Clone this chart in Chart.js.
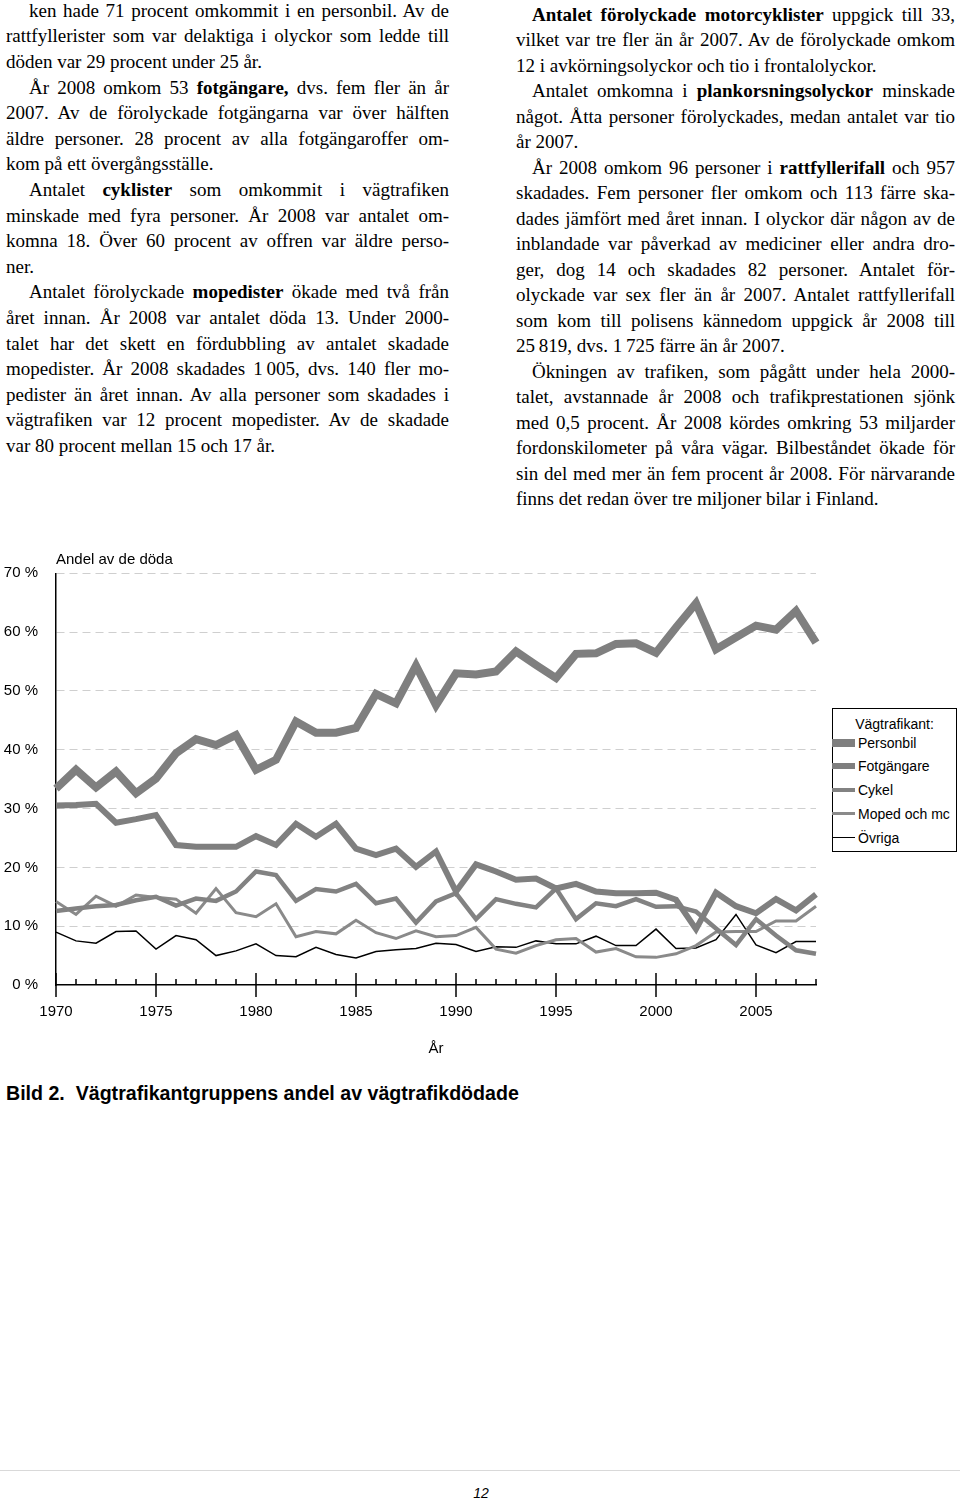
<!DOCTYPE html>
<html>
<head>
<meta charset="utf-8">
<script src="https://cdn.jsdelivr.net/npm/chart.js@4.4.1/dist/chart.umd.min.js"></script>
<style>
  html,body{margin:0;padding:0;background:#fff;}
  #page{position:relative;width:960px;height:1500px;overflow:hidden;background:#fff;}
  .ln{position:absolute;height:25.6px;line-height:25.6px;font-family:"Liberation Serif","Times New Roman",serif;font-size:19px;color:#000;white-space:nowrap;}
  .ln b{font-weight:bold;}
  .sans{position:absolute;font-family:"Liberation Sans",Arial,sans-serif;color:#000;white-space:nowrap;}
  #legend{position:absolute;left:832px;top:708px;width:123px;height:142px;border:1px solid #000;background:#fff;}
  #legend .title{position:absolute;left:0;width:123px;text-align:center;top:5px;line-height:20px;font-size:14px;}
  #legend .row{position:absolute;left:0;width:123px;height:20px;}
  #legend .sample{position:absolute;left:-1px;width:23px;}
  #legend .lab{position:absolute;left:25px;top:0;line-height:20px;font-size:14px;}
</style>
</head>
<body>
<div id="page">
  <canvas id="chart" width="960" height="540" style="position:absolute;left:0;top:540px;"></canvas>
  <div class="sans" style="left:56px;top:549px;line-height:20px;font-size:15px;">Andel av de döda</div>
  <div class="sans" style="left:421px;top:1038px;width:30px;text-align:center;line-height:20px;font-size:15px;">År</div>
  <div id="legend" class="sans"><div class="title">Vägtrafikant:</div></div>
  <div class="sans" style="left:6px;top:1082px;line-height:22px;font-size:19.6px;font-weight:bold;">Bild 2.&nbsp; Vägtrafikantgruppens andel av vägtrafikdödade</div>
  <div style="position:absolute;left:0;top:1470px;width:960px;height:1px;background:#d9d9d9;"></div>
  <div class="sans" style="left:470px;top:1484px;width:22px;text-align:center;line-height:18px;font-size:14px;font-style:italic;">12</div>
</div>
<script>
// ---------------- chart data ----------------
const years = [1970,1971,1972,1973,1974,1975,1976,1977,1978,1979,
               1980,1981,1982,1983,1984,1985,1986,1987,1988,1989,
               1990,1991,1992,1993,1994,1995,1996,1997,1998,1999,
               2000,2001,2002,2003,2004,2005,2006,2007,2008];
const xTickLabels = ['1970','1975','1980','1985','1990','1995','2000','2005'];
const yTickLabels = ['0 %','10 %','20 %','30 %','40 %','50 %','60 %','70 %'];
const seriesNames = ['Personbil','Fotgängare','Cykel','Moped och mc','Övriga'];

const personbil = [33.4,36.6,33.6,36.3,32.6,35.1,39.4,41.8,40.8,42.5,
                   36.6,38.3,44.8,42.9,42.9,43.7,49.5,47.9,54.3,47.6,
                   53.0,52.8,53.3,56.7,54.4,52.2,56.3,56.4,58.0,58.1,
                   56.5,60.8,64.9,57.1,59.1,61.1,60.4,63.6,58.2];
const fotgangare = [30.5,30.6,30.8,27.6,28.2,28.9,23.8,23.5,23.5,23.5,
                    25.3,23.8,27.4,25.2,27.4,23.2,22.1,23.2,20.1,22.7,
                    15.9,20.5,19.3,17.9,18.1,16.4,17.2,15.9,15.6,15.6,
                    15.7,14.5,9.5,15.7,13.4,12.2,14.6,12.7,15.4];
const cykel = [12.6,13.0,13.4,13.6,14.4,15.0,13.5,14.7,14.3,15.9,
               19.3,18.7,14.3,16.3,15.9,17.2,13.9,14.7,10.6,14.2,
               15.6,11.2,14.6,13.8,13.2,16.4,11.2,13.9,13.4,14.6,
               13.3,13.4,12.5,9.6,6.8,11.2,8.4,5.9,5.3];
const moped = [14.2,12.0,15.1,13.4,15.3,14.9,14.6,12.2,16.4,12.3,
               11.6,13.8,8.2,9.1,8.7,11.0,8.9,7.9,9.2,8.2,
               8.4,9.8,6.1,5.4,6.7,7.7,7.9,5.6,6.2,4.8,
               4.7,5.3,6.7,9.0,9.1,9.1,10.9,10.9,13.4];
const ovriga = [9.0,7.5,7.1,9.1,9.2,6.1,8.4,7.7,5.0,5.8,
                7.0,5.0,4.8,6.4,5.2,4.6,5.7,6.0,6.2,7.1,
                6.9,5.7,6.5,6.4,7.5,7.0,7.0,8.3,6.7,6.7,
                9.5,6.2,6.3,7.7,12.0,6.8,5.5,7.4,7.4];

// ---------------- page text ----------------
const leftLines = [
 ['ij','ken hade 71 procent omkommit i en personbil. Av de'],
 ['j','rattfyllerister som var delaktiga i olyckor som ledde till'],
 ['l','döden var 29 procent under 25 år.'],
 ['ij','År 2008 omkom 53 <b>fotgängare,</b> dvs. fem fler än år'],
 ['j','2007. Av de förolyckade fotgängarna var över hälften'],
 ['j','äldre personer. 28 procent av alla fotgängaroffer om-'],
 ['l','kom på ett övergångsställe.'],
 ['ij','Antalet <b>cyklister</b> som omkommit i vägtrafiken'],
 ['j','minskade med fyra personer. År 2008 var antalet om-'],
 ['j','komna 18. Över 60 procent av offren var äldre perso-'],
 ['l','ner.'],
 ['ij','Antalet förolyckade <b>mopedister</b> ökade med två från'],
 ['j','året innan. År 2008 var antalet döda 13. Under 2000-'],
 ['j','talet har det skett en fördubbling av antalet skadade'],
 ['j','mopedister. År 2008 skadades 1\u202F005, dvs. 140 fler mo-'],
 ['j','pedister än året innan. Av alla personer som skadades i'],
 ['j','vägtrafiken var 12 procent mopedister. Av de skadade'],
 ['l','var 80 procent mellan 15 och 17 år.']
];
const rightLines = [
 ['ij','<b>Antalet förolyckade motorcyklister</b> uppgick till 33,'],
 ['j','vilket var tre fler än år 2007. Av de förolyckade omkom'],
 ['l','12 i avkörningsolyckor och tio i frontalolyckor.'],
 ['ij','Antalet omkomna i <b>plankorsningsolyckor</b> minskade'],
 ['j','något. Åtta personer förolyckades, medan antalet var tio'],
 ['l','år 2007.'],
 ['ij','År 2008 omkom 96 personer i <b>rattfyllerifall</b> och 957'],
 ['j','skadades. Fem personer fler omkom och 113 färre ska-'],
 ['j','dades jämfört med året innan. I olyckor där någon av de'],
 ['j','inblandade var påverkad av mediciner eller andra dro-'],
 ['j','ger, dog 14 och skadades 82 personer. Antalet för-'],
 ['j','olyckade var sex fler än år 2007. Antalet rattfyllerifall'],
 ['j','som kom till polisens kännedom uppgick år 2008 till'],
 ['l','25\u202F819, dvs. 1\u202F725 färre än år 2007.'],
 ['ij','Ökningen av trafiken, som pågått under hela 2000-'],
 ['j','talet, avstannade år 2008 och trafikprestationen sjönk'],
 ['j','med 0,5 procent. År 2008 kördes omkring 53 miljarder'],
 ['j','fordonskilometer på våra vägar. Bilbeståndet ökade för'],
 ['j','sin del med mer än fem procent år 2008. För närvarande'],
 ['l','finns det redan över tre miljoner bilar i Finland.']
];

const page = document.getElementById('page');
function buildColumn(lines, left, width, indent, base0, pitch){
  lines.forEach((ln,i)=>{
    const d = document.createElement('div');
    d.className = 'ln';
    const ind = ln[0].indexOf('i') >= 0 ? indent : 0;
    d.style.left = (left + ind) + 'px';
    d.style.width = (width - ind) + 'px';
    d.style.top = (base0 + i*pitch - 19.2) + 'px';
    d.dataset.j = ln[0].indexOf('j') >= 0 ? '1' : '0';
    const s = document.createElement('span');
    s.innerHTML = ln[1];
    d.appendChild(s);
    page.appendChild(d);
  });
}
buildColumn(leftLines, 6, 443, 23, 17, 25.6);
buildColumn(rightLines, 516, 439, 16, 20.7, 25.5);
function justify(){
  document.querySelectorAll('.ln').forEach(d=>{
    if (d.dataset.j !== '1') return;
    const s = d.firstChild;
    s.style.wordSpacing = '0px';
    const w = s.getBoundingClientRect().width;
    const n = (s.textContent.match(/ /g) || []).length;
    if (n) s.style.wordSpacing = ((parseFloat(d.style.width) - w) / n) + 'px';
  });
}
justify();
if (document.fonts && document.fonts.ready) document.fonts.ready.then(justify);

// ---------------- chart ----------------
Chart.defaults.font.family = '"Liberation Sans", Arial, sans-serif';
Chart.defaults.color = '#000';

const tickMarks = {
  id: 'tickMarks',
  afterDraw(chart){
    const xs = chart.scales.x, a = chart.chartArea, ctx = chart.ctx;
    ctx.save();
    ctx.strokeStyle = '#000';
    ctx.lineWidth = 1.5;
    years.forEach((yr,i)=>{
      const px = xs.getPixelForValue(i);
      const major = xTickLabels.indexOf(String(yr)) >= 0;
      ctx.beginPath();
      ctx.moveTo(px, a.bottom - (major ? 12 : 6));
      ctx.lineTo(px, a.bottom + (major ? 12 : 0));
      ctx.stroke();
    });
    ctx.restore();
  }
};

const seriesData = [personbil, fotgangare, cykel, moped, ovriga];
const seriesColor = ['#7f7f7f','#7f7f7f','#828282','#8a8a8a','#000000'];
const seriesWidth = [8, 6, 4.5, 3, 1.5];

const chart = new Chart(document.getElementById('chart'), {
  type: 'line',
  data: {
    labels: years.map(String),
    datasets: seriesNames.map((name,k)=>({
      label: name,
      data: seriesData[k],
      borderColor: seriesColor[k],
      backgroundColor: seriesColor[k],
      borderWidth: seriesWidth[k],
      pointRadius: 0,
      pointHoverRadius: 0,
      tension: 0,
      fill: false,
      borderJoinStyle: 'miter',
      borderCapStyle: 'butt'
    }))
  },
  options: {
    responsive: false,
    animation: false,
    events: [],
    layout: { padding: { left: 0, top: 33.3, right: 144, bottom: 0 } },
    plugins: { legend: { display: false }, tooltip: { enabled: false } },
    scales: {
      x: {
        type: 'category',
        offset: false,
        grid: { display: false, drawTicks: false },
        border: { display: true, color: '#000', width: 1.5 },
        ticks: {
          autoSkip: false, maxRotation: 0, minRotation: 0, padding: 18,
          font: { size: 15 },
          callback: (v, i) => xTickLabels.indexOf(String(years[i])) >= 0 ? String(years[i]) : ''
        },
        afterFit: (s) => { s.height = 95; }
      },
      y: {
        min: 0, max: 70,
        grid: {
          drawTicks: false,
          lineWidth: 1,
          color: (c) => (c.tick && c.tick.value === 0) ? 'rgba(0,0,0,0)' : '#cfcfcf'
        },
        border: { display: true, color: '#000', width: 1.5, dash: [8, 5] },
        ticks: {
          stepSize: 10, padding: 18,
          font: { size: 15 },
          callback: (v, i) => yTickLabels[i]
        },
        afterFit: (s) => { s.width = 56; }
      }
    }
  },
  plugins: [tickMarks]
});

// ---------------- legend (HTML, from datasets) ----------------
const legend = document.getElementById('legend');
chart.data.datasets.forEach((ds,k)=>{
  const row = document.createElement('div');
  row.className = 'row';
  row.style.top = (23.5 + k*23.75) + 'px';
  const smp = document.createElement('div');
  smp.className = 'sample';
  smp.style.height = ds.borderWidth + 'px';
  smp.style.top = (10 - ds.borderWidth/2) + 'px';
  smp.style.background = ds.borderColor;
  const lab = document.createElement('div');
  lab.className = 'lab';
  lab.textContent = ds.label;
  row.appendChild(smp); row.appendChild(lab);
  legend.appendChild(row);
});
</script>
</body>
</html>
